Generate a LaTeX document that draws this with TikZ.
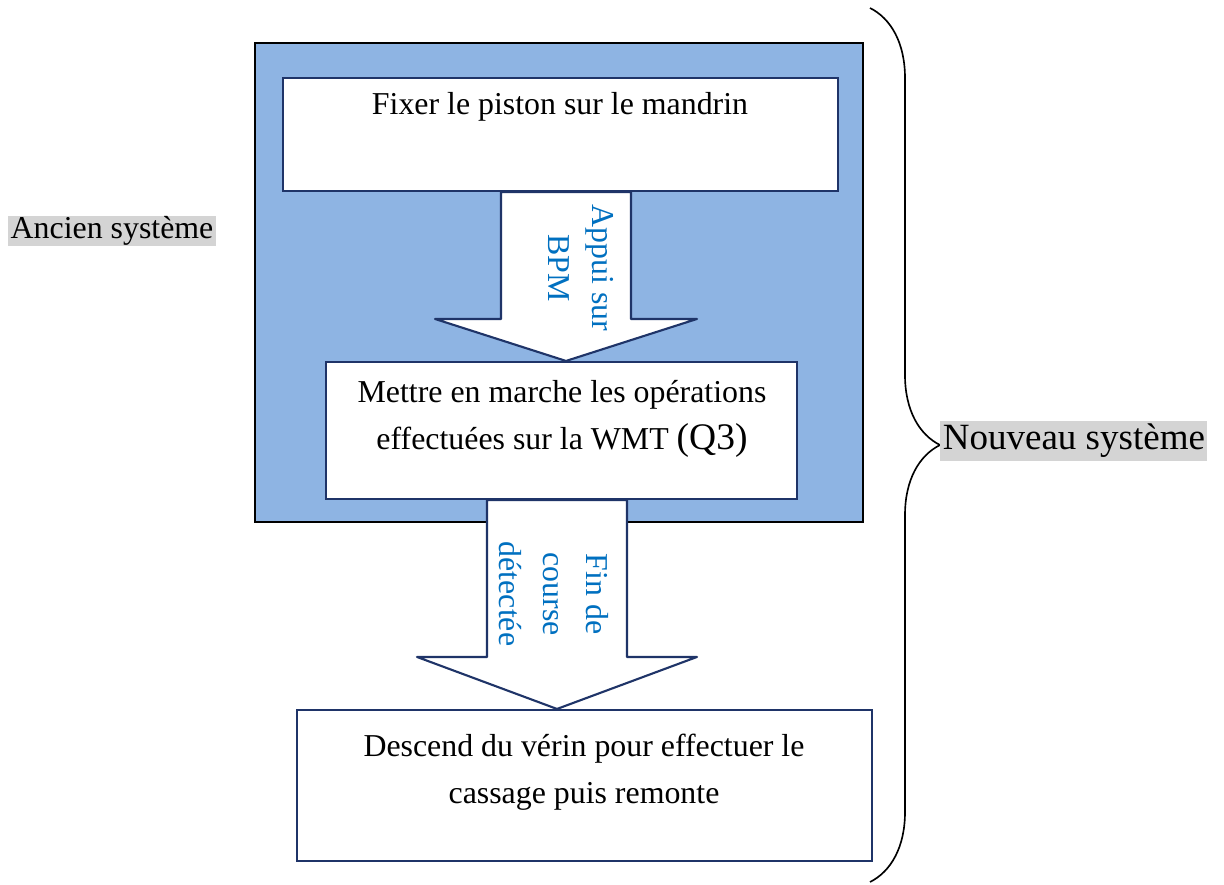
\documentclass[tikz,border=0pt]{standalone}
\usepackage{fontspec}
\setmainfont{Liberation Serif}
\usetikzlibrary{calc}
\usetikzlibrary{decorations.pathreplacing}

\newcommand{\pxu}{0.015cm} % one pixel of the drawing
\definecolor{zoneblue}{HTML}{8EB4E3}
\definecolor{navy}{HTML}{1F3468}
\definecolor{labelblue}{HTML}{0070C0}
\definecolor{markgray}{HTML}{D4D4D4}

\tikzset{
	stepbox/.style={draw=navy, line width=0.9pt, fill=white, inner sep=0pt},
	steptext/.style={align=center, font=\fontsize{13.6}{20}\selectfont},
	arrowline/.style={draw=navy, line width=0.9pt, fill=white, line join=round},
	arrowlabel/.style={align=center, text=labelblue, rotate=-90, font=\fontsize{13.6}{18.5}\selectfont},
	marked/.style={fill=markgray, inner xsep=1pt, inner ysep=0pt},
}

\newcommand{\blockarrow}[6] % x centre, from node, to node, shaft half width, head half width, head length (px)
{
	% tip and base of the head
	\coordinate (tip) at (#1,0 |- #3.north);
	\coordinate (base) at ($(tip)+(0,-#6)$);
	% outline
	\draw[arrowline] (tip) -- (base -| #1-#5,0) -- (base -| #1-#4,0)
		-- (#2.south -| #1-#4,0) -- (#2.south -| #1+#4,0)
		-- (base -| #1+#4,0) -- (base -| #1+#5,0) -- cycle;
}

\begin{document}
\begin{tikzpicture}[x=\pxu, y=-\pxu]
	% 1224 x 884 px, y going down
	\useasboundingbox (0,0) rectangle (1224,884);
	
	% old system zone
	\draw[fill=zoneblue, line width=1pt] (255,43) rectangle (863,522);
	
	% steps
	\node[stepbox, minimum width=555*\pxu, minimum height=113*\pxu] (fix) at (560.5,134.5) {};
	\node[stepbox, minimum width=471*\pxu, minimum height=137*\pxu] (run) at (561.5,430.5) {};
	\node[stepbox, minimum width=575*\pxu, minimum height=151*\pxu] (down) at (584.5,785.5) {};
	
	% block arrows
	\blockarrow{566}{fix}{run}{65}{131}{42}
	\blockarrow{557}{run}{down}{70}{140}{52}
	
	% texts
	\node[steptext] (fixtext) at (560,107) {Fixer le piston sur le mandrin};
	\node[steptext] (runtext) at (562,419) {Mettre en marche les opérations\\effectuées sur la WMT {\fontsize{16}{20}\selectfont(Q3)}};
	\node[steptext] (downtext) at (584,772) {Descend du vérin pour effectuer le\\cassage puis remonte};
	
	\node[arrowlabel] (press) at (581,268) {Appui sur\\BPM};
	\node[arrowlabel] (endstop) at (554,594) {Fin de\\course\\détectée};
	
	% brace
	\coordinate (bracetop) at (870,8);
	\coordinate (bracebot) at (870,882);
	\draw[decorate, decoration={brace, amplitude=1.05cm}, line width=0.7pt] (bracetop) -- (bracebot);
	
	% system labels
	\node[marked, font=\fontsize{15.8}{18}\selectfont, minimum height=40*\pxu, anchor=west] (newsys) at (940,441) {Nouveau système};
	\node[marked, font=\fontsize{13.6}{16}\selectfont, minimum height=30*\pxu] (oldsys) at (112,231) {Ancien système};
\end{tikzpicture}
\end{document}
